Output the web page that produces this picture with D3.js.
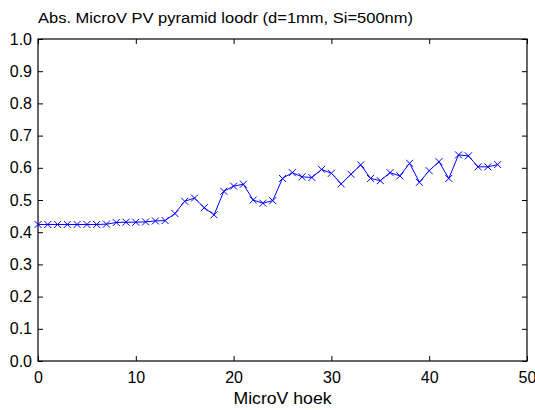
<!DOCTYPE html>
<html><head><meta charset="utf-8">
<script src="https://cdn.jsdelivr.net/npm/d3@7"></script>
<style>body{margin:0;background:#fff}svg{display:block}text{font-family:"Liberation Sans",Arial,sans-serif}</style>
</head><body>
<script>
const titleText = "Abs. MicroV PV pyramid loodr (d=1mm, Si=500nm)";
const xLabel = "MicroV hoek";
const xValues = d3.range(0, 48);
const yValues = [0.424,0.424,0.424,0.424,0.424,0.424,0.424,0.425,0.430,0.431,0.431,0.432,0.435,0.436,0.458,0.496,0.506,0.476,0.454,0.527,0.543,0.549,0.500,0.490,0.498,0.567,0.585,0.572,0.570,0.595,0.583,0.550,0.580,0.609,0.567,0.560,0.585,0.575,0.614,0.555,0.591,0.619,0.567,0.640,0.637,0.603,0.603,0.610];
const xTicks = [0,10,20,30,40,50];
const yTicks = [0,0.1,0.2,0.3,0.4,0.5,0.6,0.7,0.8,0.9,1.0];

const W=535,H=410;
const m={l:38,r:527,t:39,b:361};
const svg=d3.select("body").append("svg").attr("width",W).attr("height",H);
const x=d3.scaleLinear().domain([0,50]).range([m.l,m.r]);
const y=d3.scaleLinear().domain([0,1]).range([m.b,m.t]);
const fs=16, tl=5;

const g=svg.append("g");
const ax=g.append("g").attr("transform",`translate(0,${m.b})`).call(d3.axisBottom(x).tickValues(xTicks).tickSize(-tl).tickPadding(tl+6));
const axT=g.append("g").attr("transform",`translate(0,${m.t})`).call(d3.axisTop(x).tickValues(xTicks).tickSize(-tl).tickFormat(""));
const ay=g.append("g").attr("transform",`translate(${m.l},0)`).call(d3.axisLeft(y).tickValues(yTicks).tickSize(-tl).tickPadding(tl+1).tickFormat(d3.format(".1f")));
const ayR=g.append("g").attr("transform",`translate(${m.r},0)`).call(d3.axisRight(y).tickValues(yTicks).tickSize(-tl).tickFormat(""));
[ax,axT,ay,ayR].forEach(a=>{
  a.select(".domain").remove();
  a.selectAll("line").attr("stroke","#000");
  a.selectAll("text").attr("font-size",fs).attr("fill","#000").style("font-family",'"Liberation Sans",Arial,sans-serif');
});
g.append("rect").attr("x",m.l).attr("y",m.t).attr("width",m.r-m.l).attr("height",m.b-m.t).attr("fill","none").attr("stroke","#000").attr("stroke-width",1.2);

const line=d3.line().x((d,i)=>x(xValues[i])).y(d=>y(d));
svg.append("path").datum(yValues).attr("d",line).attr("fill","none").attr("stroke","#0000ff").attr("stroke-width",1);
const s=3.5;
svg.append("g").selectAll("path").data(yValues).join("path")
  .attr("d",(d,i)=>{const cx=x(xValues[i]),cy=y(d);return `M${cx-s},${cy-s}L${cx+s},${cy+s}M${cx-s},${cy+s}L${cx+s},${cy-s}`;})
  .attr("stroke","#0000ff").attr("stroke-width",1).attr("fill","none");

svg.append("text").attr("x",38).attr("y",23).attr("font-size",15.5).attr("textLength",375).attr("lengthAdjust","spacingAndGlyphs").text(titleText);
svg.append("text").attr("x",(m.l+m.r)/2).attr("y",404).attr("text-anchor","middle").attr("font-size",16).attr("textLength",98).attr("lengthAdjust","spacingAndGlyphs").text(xLabel);
</script>
</body></html>
